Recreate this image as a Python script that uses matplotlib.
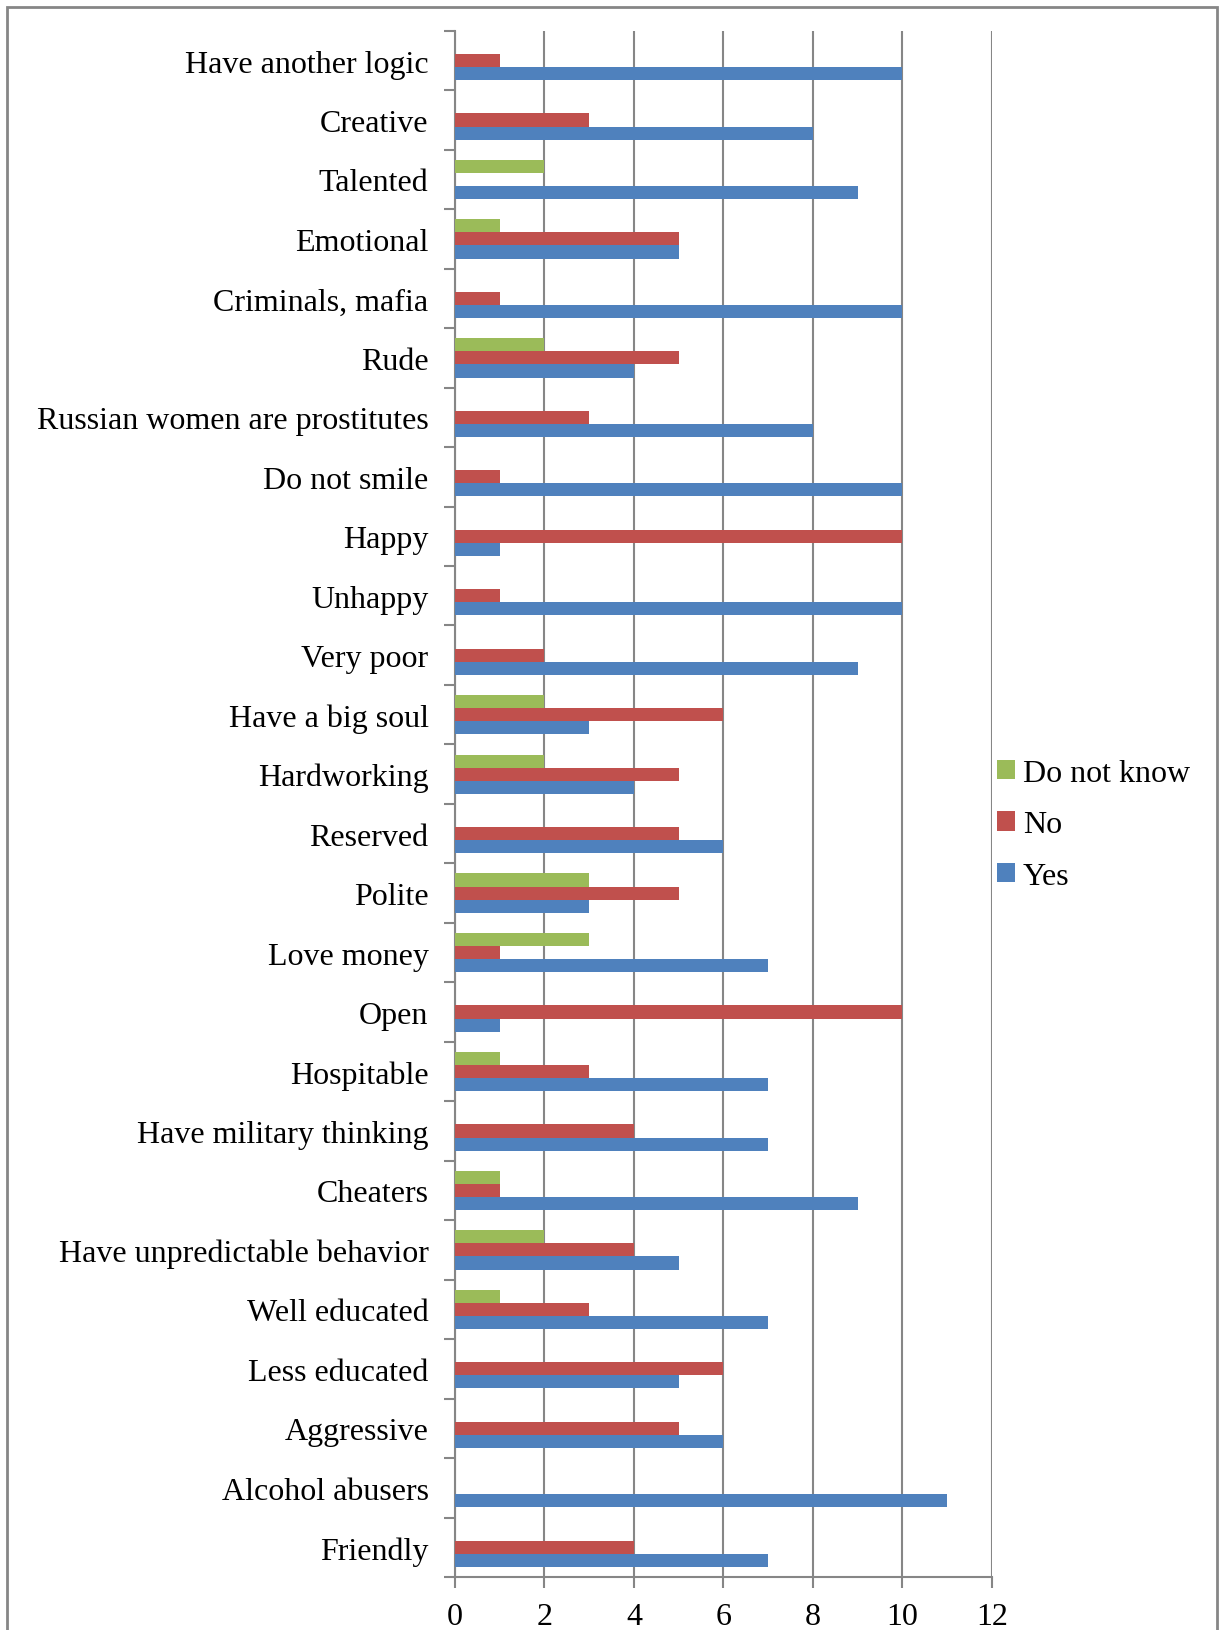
import numpy as np
import matplotlib.pyplot as plt
from matplotlib.patches import Rectangle

# categories listed top to bottom as in the chart
categories = [
    "Have another logic", "Creative", "Talented", "Emotional", "Criminals, mafia",
    "Rude", "Russian women are prostitutes", "Do not smile", "Happy", "Unhappy",
    "Very poor", "Have a big soul", "Hardworking", "Reserved", "Polite",
    "Love money", "Open", "Hospitable", "Have military thinking", "Cheaters",
    "Have unpredictable behavior", "Well educated", "Less educated", "Aggressive",
    "Alcohol abusers", "Friendly",
]
yes = [10, 8, 9, 5, 10, 4, 8, 10, 1, 10, 9, 3, 4, 6, 3, 7, 1, 7, 7, 9, 5, 7, 5, 6, 11, 7]
no = [1, 3, 0, 5, 1, 5, 3, 1, 10, 1, 2, 6, 5, 5, 5, 1, 10, 3, 4, 1, 4, 3, 6, 5, 0, 4]
dont_know = [0, 0, 2, 1, 0, 2, 0, 0, 0, 0, 0, 2, 2, 0, 3, 3, 0, 1, 0, 1, 2, 1, 0, 0, 0, 0]
x_ticks = [0, 2, 4, 6, 8, 10, 12]

blue = "#4F81BD"
red = "#C0504D"
green = "#9BBB59"
grey = "#868686"

plt.rcParams["font.family"] = ["Liberation Serif", "DejaVu Serif"]

fig = plt.figure(figsize=(12.26, 16.31), dpi=100)
ax = fig.add_axes([0.3711, 0.0325, 0.438, 0.948])

n = len(categories)
y = np.arange(n)[::-1]
h = 0.22

ax.barh(y - h, yes, height=h, color=blue, label="Yes", zorder=3)
ax.barh(y, no, height=h, color=red, label="No", zorder=3)
ax.barh(y + h, dont_know, height=h, color=green, label="Do not know", zorder=3)

ax.set_xlim(0, 12)
ax.set_ylim(-0.5, n - 0.5)
ax.set_xticks(x_ticks)
ax.set_xticklabels([str(v) for v in x_ticks], fontsize=23)
ax.grid(axis="x", color=grey, linewidth=1.5, zorder=0)

# boundaries as major ticks, labels on minor ticks
ax.set_yticks(np.arange(-0.5, n, 1.0))
ax.set_yticklabels([])
ax.set_yticks(y, minor=True)
ax.set_yticklabels(categories, minor=True, fontsize=23)
ax.tick_params(axis="y", which="minor", length=0, pad=19)
ax.tick_params(axis="y", which="major", length=8, width=1.5, color=grey)
ax.tick_params(axis="x", length=8, width=1.5, color=grey, pad=10)

for s in ["top", "right"]:
    ax.spines[s].set_visible(False)
for s in ["left", "bottom"]:
    ax.spines[s].set_color(grey)
    ax.spines[s].set_linewidth(1.5)

handles, labels = ax.get_legend_handles_labels()
fig.legend(handles[::-1], labels[::-1], loc="center left",
           bbox_to_anchor=(0.790, 0.4937), frameon=False, fontsize=23,
           handlelength=0.55, handleheight=0.55, handletextpad=0.25,
           labelspacing=0.7)

# outer frame of the chart area
W, H = 1226, 1631
fig.patches.append(Rectangle((7 / W, -0.05), (1217 - 7) / W, 1.05 - 8 / H,
                             transform=fig.transFigure, fill=False,
                             edgecolor=grey, linewidth=2))

fig.savefig("out.png", dpi=100)
